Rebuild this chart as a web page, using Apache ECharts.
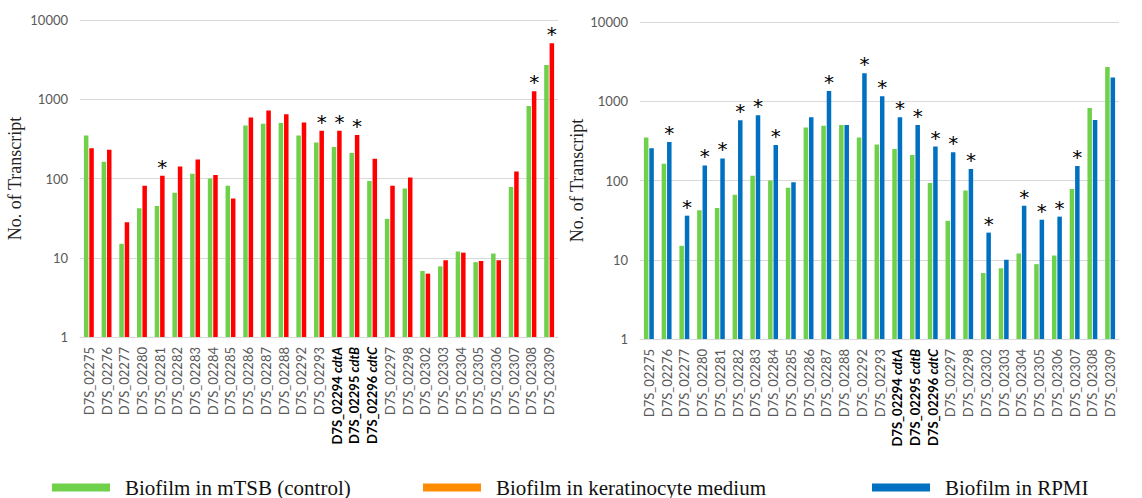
<!DOCTYPE html>
<html>
<head>
<meta charset="utf-8">
<style>
  html, body { margin: 0; padding: 0; background: #fff; }
  #chart { width: 1142px; height: 498px; }
</style>
<script src="https://cdn.jsdelivr.net/npm/echarts@6/dist/echarts.min.js"></script>
</head>
<body>
<div id="chart"></div>
<script>
// Gene loci shown on both panels
const categories = [
  'D7S_02275', 'D7S_02276', 'D7S_02277', 'D7S_02280', 'D7S_02281', 'D7S_02282',
  'D7S_02283', 'D7S_02284', 'D7S_02285', 'D7S_02286', 'D7S_02287', 'D7S_02288',
  'D7S_02292', 'D7S_02293', 'D7S_02294 cdtA', 'D7S_02295 cdtB', 'D7S_02296 cdtC',
  'D7S_02297', 'D7S_02298', 'D7S_02302', 'D7S_02303', 'D7S_02304', 'D7S_02305',
  'D7S_02306', 'D7S_02307', 'D7S_02308', 'D7S_02309'
];

// Transcript counts per condition
const controlMTSB = [350, 163, 15, 42, 45, 66, 115, 100, 81, 465, 490, 500, 350, 285, 250, 210, 93, 31, 75, 6.8, 7.8, 12, 8.8, 11.3, 78, 820, 2700];
const keratinocyte = [240, 230, 28, 81, 108, 142, 174, 111, 56, 590, 720, 645, 510, 400, 400, 355, 178, 81, 103, 6.3, 9.3, 11.6, 9.1, 9.3, 123, 1260, 5100];
const rpmi = [255, 305, 36, 155, 190, 575, 665, 280, 95, 630, 1350, 500, 2250, 1160, 630, 500, 268, 227, 140, 22, 10, 48, 32, 35, 152, 580, 2000];

// Indices of loci marked significant (*) against the control
const keratinocyteSignificant = [4, 13, 14, 15, 25, 26];
const rpmiSignificant = [1, 2, 3, 4, 5, 6, 7, 10, 12, 13, 14, 15, 16, 17, 18, 19, 21, 22, 23, 24];

// Y tick labels on the log axis
const yTicks = [1, 10, 100, 1000, 10000];

const names = {
  control: 'Biofilm in mTSB (control)',
  kera: 'Biofilm in keratinocyte medium',
  rpmi: 'Biofilm in RPMI'
};

const colors = {
  green: '#6fd04a',
  red: '#ff0000',
  orange: '#ff8c00',
  blue: '#0070c0',
  grid: '#d9d9d9',
  tick: '#595959'
};

const sansFont = 'Lato, "Liberation Sans", sans-serif';
const serifFont = '"Liberation Serif", "DejaVu Serif", serif';

function starred(values, sig) {
  return values.map((v, i) => sig.includes(i) ? { value: v, label: { show: true } } : v);
}

function xLabel(v) {
  const m = v.match(/^(\S+) (cdt\w)$/);
  if (m) return '{b|' + m[1] + ' }{bi|' + m[2] + '}';
  return v;
}

function xAxisFor(gridIndex) {
  return {
    type: 'category',
    gridIndex: gridIndex,
    data: categories,
    axisTick: { show: false },
    axisLine: { lineStyle: { color: colors.grid, width: 1 } },
    axisLabel: {
      interval: 0,
      rotate: 90,
      margin: 10,
      color: colors.tick,
      fontFamily: sansFont,
      fontSize: 13,
      formatter: xLabel,
      rich: {
        b: { fontFamily: sansFont, fontSize: 13, fontWeight: 'bold', color: '#000' },
        bi: { fontFamily: sansFont, fontSize: 13, fontWeight: 'bold', fontStyle: 'italic', color: '#000' }
      }
    }
  };
}

function yAxisFor(gridIndex, nameGap) {
  return {
    type: 'log',
    logBase: 10,
    gridIndex: gridIndex,
    min: yTicks[0],
    max: yTicks[yTicks.length - 1],
    name: 'No. of Transcript',
    nameLocation: 'middle',
    nameRotate: 90,
    nameGap: nameGap,
    nameTextStyle: { fontFamily: serifFont, fontSize: 18, color: '#222' },
    axisLine: { show: false },
    axisTick: { show: false },
    splitLine: { lineStyle: { color: colors.grid, width: 1 } },
    axisLabel: {
      margin: 12,
      color: colors.tick,
      fontFamily: sansFont,
      fontSize: 13,
      formatter: v => yTicks.includes(v) ? String(v) : ''
    }
  };
}

// Asterisk drawn above bars that differ significantly from the control
const starLabel = {
  show: false,
  position: 'top',
  distance: -1,
  formatter: '*',
  color: '#000',
  textBorderWidth: 0,
  fontFamily: '"DejaVu Sans", sans-serif',
  fontSize: 20
};

function barSeries(name, data, color, axisIndex) {
  return {
    name: name,
    type: 'bar',
    xAxisIndex: axisIndex,
    yAxisIndex: axisIndex,
    data: data,
    barWidth: 4.5,
    barGap: '20%',
    itemStyle: { color: color },
    label: starLabel
  };
}

function legendItem(left, name, color) {
  return {
    left: left,
    top: 477,
    padding: 0,
    orient: 'horizontal',
    icon: 'rect',
    itemWidth: 58,
    itemHeight: 8,
    selectedMode: false,
    data: [{ name: name, itemStyle: { color: color } }],
    textStyle: {
      fontFamily: serifFont,
      fontSize: 21,
      color: '#111',
      padding: [0, 0, 0, 10]
    }
  };
}

const chart = echarts.init(document.getElementById('chart'), null, { renderer: 'svg' });

chart.setOption({
  animation: false,
  backgroundColor: '#fff',
  grid: [
    { left: 80, right: 584, top: 20, bottom: 161 },
    { left: 640, right: 23, top: 22, bottom: 159 }
  ],
  xAxis: [xAxisFor(0), xAxisFor(1)],
  yAxis: [yAxisFor(0, 56), yAxisFor(1, 42)],
  legend: [
    legendItem(52, names.control, colors.green),
    legendItem(423, names.kera, colors.orange),
    legendItem(872, names.rpmi, colors.blue)
  ],
  series: [
    barSeries(names.control, controlMTSB, colors.green, 0),
    barSeries(names.kera, starred(keratinocyte, keratinocyteSignificant), colors.red, 0),
    barSeries(names.control, controlMTSB, colors.green, 1),
    barSeries(names.rpmi, starred(rpmi, rpmiSignificant), colors.blue, 1)
  ]
});
</script>
</body>
</html>
